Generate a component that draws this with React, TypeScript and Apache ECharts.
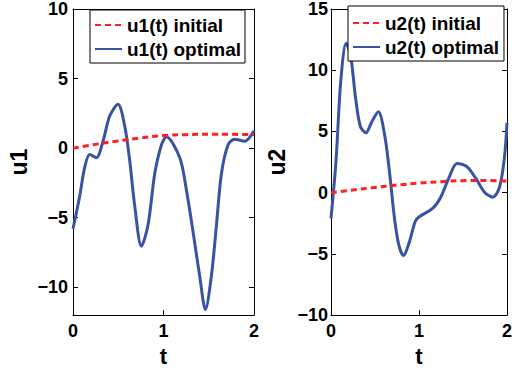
import React, { useEffect, useRef } from "react";
import * as echarts from "echarts";

// ---- data ----
const T_INIT = [0, 0.25, 0.5, 0.75, 1, 1.25, 1.5, 1.75, 2];
const U1_INIT = [0, 0.27, 0.52, 0.74, 0.9, 0.97, 1.0, 0.99, 0.97];
const U2_INIT = [0, 0.22, 0.43, 0.62, 0.78, 0.9, 0.98, 0.99, 0.95];

const T1_OPT = [0, 0.074, 0.129, 0.185, 0.258, 0.33, 0.405, 0.497, 0.571, 0.627, 0.682, 0.756, 0.829, 0.903, 0.977, 1.032, 1.18, 1.253, 1.326, 1.4, 1.463, 1.529, 1.585, 1.64, 1.713, 1.787, 1.897, 2.0];
const U1_OPT = [-5.8, -3.46, -1.38, -0.46, -0.69, 0.46, 2.3, 3.15, 1.61, -0.92, -4.15, -7.05, -5.53, -1.84, 0.23, 0.81, -0.69, -3.0, -5.99, -9.2, -11.6, -9.2, -5.53, -1.84, 0.23, 0.64, 0.5, 1.25];

const T2_OPT = [0, 0.056, 0.111, 0.172, 0.223, 0.278, 0.334, 0.397, 0.464, 0.538, 0.612, 0.668, 0.723, 0.772, 0.824, 0.89, 0.957, 1.006, 1.154, 1.247, 1.34, 1.432, 1.544, 1.655, 1.747, 1.84, 1.914, 1.97, 2.0];
const U2_OPT = [-2.1, 2.5, 9.1, 12.2, 11.2, 7.8, 5.4, 4.89, 5.8, 6.6, 4.6, 1.47, -2.2, -4.3, -5.15, -4.05, -2.35, -1.95, -1.29, -0.37, 1.21, 2.39, 2.13, 1.07, 0.02, -0.37, 0.42, 2.8, 5.7];

const X_TICKS = [0, 1, 2];
const Y1_TICKS = [-10, -5, 0, 5, 10];
const Y2_TICKS = [-10, -5, 0, 5, 10, 15];

const NAMES1 = ["u1(t) initial", "u1(t) optimal"];
const NAMES2 = ["u2(t) initial", "u2(t) optimal"];

const BLUE = "#3953a4";
const RED = "#ff2121";
const FONT = "Liberation Sans";

const pairs = (xs: number[], ys: number[]) => xs.map((x, i) => [x, ys[i]]);
const fmt = (v: number) => String(v).replace("-", "\u2212");

export default function App() {
  const ref = useRef<HTMLDivElement>(null);
  useEffect(() => {
    if (!ref.current) return;
    const chart = echarts.init(ref.current, null, { renderer: "svg" });
    const labelStyle = { fontSize: 18, fontWeight: "bold" as const, fontFamily: FONT, color: "#000" };
    const line = { show: true, onZero: false, lineStyle: { color: "#000", width: 1 } };
    const tick = (vals: number[]) => ({ show: true, inside: true, length: 5, lineStyle: { color: "#000" }, customValues: vals });
    const mkX = (grid: number) => [
      {
        type: "value", gridIndex: grid, min: 0, max: 2, position: "bottom",
        axisLine: line, axisTick: tick(X_TICKS), splitLine: { show: false },
        axisLabel: { ...labelStyle, margin: 7, customValues: X_TICKS, formatter: fmt },
        name: "t", nameLocation: "middle", nameGap: 24,
        nameTextStyle: { fontSize: 22, fontWeight: "bold", fontFamily: FONT, color: "#000" },
      },
      {
        type: "value", gridIndex: grid, min: 0, max: 2, position: "top",
        axisLine: line, axisTick: tick(X_TICKS), splitLine: { show: false }, axisLabel: { show: false },
      },
    ];
    const mkY = (grid: number, min: number, max: number, ticks: number[], name: string, margin: number) => [
      {
        type: "value", gridIndex: grid, min, max, position: "left",
        axisLine: line, axisTick: tick(ticks), splitLine: { show: false },
        axisLabel: { ...labelStyle, margin, customValues: ticks, formatter: fmt },
        name, nameLocation: "middle", nameGap: 43, nameRotate: 90,
        nameTextStyle: { fontSize: 23, fontWeight: "bold", fontFamily: FONT, color: "#000" },
      },
      {
        type: "value", gridIndex: grid, min, max, position: "right",
        axisLine: line, axisTick: tick(ticks), splitLine: { show: false }, axisLabel: { show: false },
      },
    ];
    const legendBase = {
      orient: "vertical", itemWidth: 27, itemHeight: 10, itemGap: 2,
      borderColor: "#000", borderWidth: 1, backgroundColor: "#fff",
      itemStyle: { opacity: 0 },
      textStyle: { fontSize: 19, fontWeight: "bold", fontFamily: FONT, color: "#000", lineHeight: 22 },
    };
    const initStyle = { color: RED, width: 3, type: [6, 4] as any };
    const optStyle = { color: BLUE, width: 3 };
    chart.setOption({
      animation: false,
      backgroundColor: "#fff",
      grid: [
        { left: 73, top: 5, width: 181, height: 318 },
        { left: 331, top: 6, width: 180, height: 317 },
      ],
      xAxis: [...mkX(0), ...mkX(1)],
      yAxis: [...mkY(0, -12, 10, Y1_TICKS, "u1", 5), ...mkY(1, -10, 15, Y2_TICKS, "u2", 3)],
      legend: [
        { ...legendBase, data: NAMES1, left: 90, top: 10, padding: [4, 4, 3, 4] },
        { ...legendBase, data: NAMES2, left: 348, top: 6, padding: [6, 5, 3, 4] },
      ],
      series: [
        { name: NAMES1[0], type: "line", xAxisIndex: 0, yAxisIndex: 0, data: pairs(T_INIT, U1_INIT), smooth: true, symbol: "none", lineStyle: initStyle, itemStyle: { color: RED }, z: 3 },
        { name: NAMES1[1], type: "line", xAxisIndex: 0, yAxisIndex: 0, data: pairs(T1_OPT, U1_OPT), smooth: 0.3, symbol: "none", lineStyle: optStyle, itemStyle: { color: BLUE }, z: 2 },
        { name: NAMES2[0], type: "line", xAxisIndex: 2, yAxisIndex: 2, data: pairs(T_INIT, U2_INIT), smooth: true, symbol: "none", lineStyle: initStyle, itemStyle: { color: RED }, z: 3 },
        { name: NAMES2[1], type: "line", xAxisIndex: 2, yAxisIndex: 2, data: pairs(T2_OPT, U2_OPT), smooth: 0.3, symbol: "none", lineStyle: optStyle, itemStyle: { color: BLUE }, z: 2 },
      ],
    });
    return () => chart.dispose();
  }, []);
  return <div ref={ref} style={{ position: "fixed", left: 0, top: 0, width: 515, height: 372 }} />;
}
